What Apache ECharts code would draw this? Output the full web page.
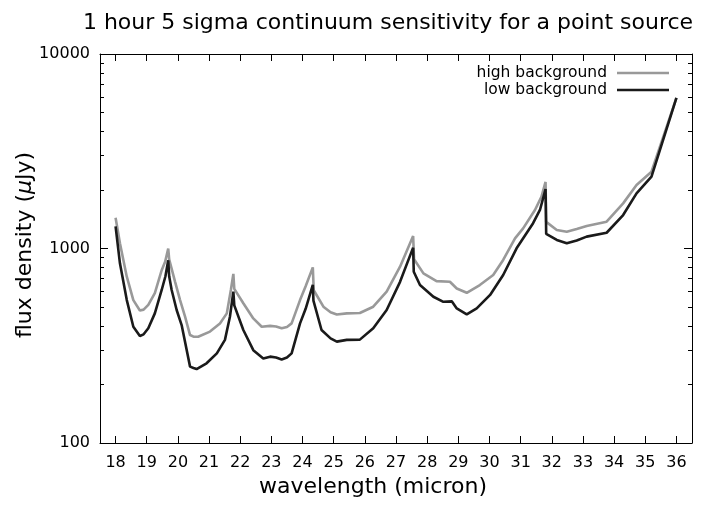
<!DOCTYPE html>
<html>
<head>
<meta charset="utf-8">
<script src="https://cdn.jsdelivr.net/npm/echarts@6/dist/echarts.min.js"></script>
<style>html,body{margin:0;padding:0;background:#fff}#c{width:701px;height:506px}</style>
</head>
<body>
<div id="c"></div>
<script>
const xTickValues = [18,19,20,21,22,23,24,25,26,27,28,29,30,31,32,33,34,35,36];
const yMinorTicks = [200,300,400,500,600,700,800,900,2000,3000,4000,5000,6000,7000,8000,9000];

const wavelengthHigh = [18.00,18.14,18.36,18.57,18.78,18.90,19.05,19.26,19.48,19.59,19.69,19.72,19.91,20.07,20.23,20.39,20.50,20.65,21.03,21.35,21.57,21.70,21.78,21.81,22.10,22.42,22.69,22.96,23.15,23.33,23.50,23.65,23.92,24.10,24.33,24.36,24.67,24.90,25.10,25.42,25.84,26.27,26.70,27.13,27.55,27.58,27.88,28.30,28.73,28.95,29.27,29.69,30.12,30.44,30.82,31.08,31.46,31.67,31.80,31.82,32.16,32.48,32.80,33.12,33.76,34.29,34.72,35.20,36.00];
const fluxHigh = [1440,1064,716,543,480,485,513,589,774,855,1000,880,674,543,446,359,352,352,374,412,464,612,740,620,523,437,396,400,397,389,395,412,543,640,800,610,502,470,458,464,466,502,600,806,1160,880,745,680,675,623,592,649,731,873,1127,1269,1578,1847,2200,1370,1245,1220,1260,1306,1374,1706,2119,2482,5950];

const wavelengthLow = [18.00,18.14,18.36,18.57,18.78,18.90,19.05,19.26,19.48,19.60,19.69,19.72,19.80,19.96,20.12,20.39,20.50,20.60,20.92,21.25,21.51,21.67,21.78,21.81,22.10,22.42,22.74,22.96,23.15,23.33,23.50,23.65,23.92,24.10,24.33,24.35,24.61,24.90,25.10,25.42,25.84,26.27,26.70,27.13,27.55,27.57,27.77,28.20,28.52,28.79,28.95,29.27,29.59,30.02,30.44,30.87,31.40,31.62,31.80,31.82,32.16,32.48,32.80,33.12,33.76,34.29,34.72,35.20,36.00];
const fluxLow = [1300,839,543,396,355,362,389,464,612,720,870,720,612,483,404,247,243,240,257,289,339,446,600,510,381,300,272,278,275,269,275,289,412,490,650,540,381,345,332,339,340,389,483,674,1010,760,649,565,532,535,492,458,492,577,731,1002,1349,1578,2020,1190,1107,1064,1100,1151,1205,1486,1922,2340,5950];

const X_MIN = 17.5, X_MAX = 36.5;
const FONT = "'DejaVu Sans', 'Liberation Sans', Arial, sans-serif";

const chart = echarts.init(document.getElementById('c'), null, {renderer: 'canvas'});
const pair = (xs, ys) => xs.map((x, i) => [x, ys[i]]);

const axisLineStyle = {show: true, lineStyle: {color: '#000', width: 1}};
function logAxis(position, major, extra) {
  return Object.assign({
    type: 'log', logBase: 10, min: 100, max: 10000, position: position,
    axisLine: major ? axisLineStyle : {show: false},
    axisTick: major
      ? {show: true, inside: true, length: 8, lineStyle: {color: '#000'}}
      : {show: true, inside: true, length: 4, customValues: yMinorTicks, lineStyle: {color: '#000'}},
    axisLabel: {show: false},
    splitLine: {show: false}
  }, extra || {});
}

chart.setOption({
  animation: false,
  backgroundColor: '#fff',
  graphic: [{
    type: 'text', x: 388, y: 23,
    style: {text: '1 hour 5 sigma continuum sensitivity for a point source', font: '22px ' + FONT, fill: '#000',
      textAlign: 'center', textVerticalAlign: 'middle'}
  }],
  legend: {
    orient: 'vertical', right: 32, top: 65, align: 'right', padding: 0,
    icon: 'rect', itemWidth: 52, itemHeight: 2.5, itemGap: 1,
    textStyle: {fontFamily: FONT, fontSize: 15.5, color: '#000', padding: [0, 5, 0, 0]},
    data: ['high background', 'low background']
  },
  grid: {left: 100, right: 9, top: 54, bottom: 63},
  xAxis: [{
    type: 'value', min: X_MIN, max: X_MAX, position: 'bottom',
    axisLine: axisLineStyle,
    axisTick: {show: true, inside: true, length: 7, customValues: xTickValues, lineStyle: {color: '#000'}},
    axisLabel: {customValues: xTickValues, margin: 12, fontFamily: FONT, fontSize: 16, color: '#000'},
    splitLine: {show: false},
    name: 'wavelength (micron)', nameLocation: 'middle', nameGap: 33, nameMoveOverlap: false,
    nameTextStyle: {fontFamily: FONT, fontSize: 22, color: '#000', padding: [0, 46, 0, 0]}
  }, {
    type: 'value', min: X_MIN, max: X_MAX, position: 'top',
    axisLine: axisLineStyle,
    axisTick: {show: true, inside: true, length: 7, customValues: xTickValues, lineStyle: {color: '#000'}},
    axisLabel: {show: false}, splitLine: {show: false}
  }],
  yAxis: [
    logAxis('left', true, {
      axisLabel: {margin: 10, fontFamily: FONT, fontSize: 16, color: '#000', formatter: v => String(v)},
      name: 'flux density ({i|μ}Jy)', nameLocation: 'middle', nameGap: 64, nameRotate: 90, nameMoveOverlap: false,
      nameTextStyle: {fontFamily: FONT, fontSize: 22, color: '#000', padding: [0, 0, 0, 7],
        rich: {i: {fontFamily: FONT, fontSize: 22, fontStyle: 'italic', color: '#000'}}}
    }),
    logAxis('right', true),
    logAxis('left', false),
    logAxis('right', false)
  ],
  series: [{
    name: 'high background', type: 'line', symbol: 'none', xAxisIndex: 0, yAxisIndex: 0,
    data: pair(wavelengthHigh, fluxHigh),
    lineStyle: {color: '#999999', width: 2.6}, itemStyle: {color: '#999999'}, z: 3
  }, {
    name: 'low background', type: 'line', symbol: 'none', xAxisIndex: 0, yAxisIndex: 0,
    data: pair(wavelengthLow, fluxLow),
    lineStyle: {color: '#1a1a1a', width: 2.6}, itemStyle: {color: '#1a1a1a'}, z: 4
  }]
});
</script>
</body>
</html>
